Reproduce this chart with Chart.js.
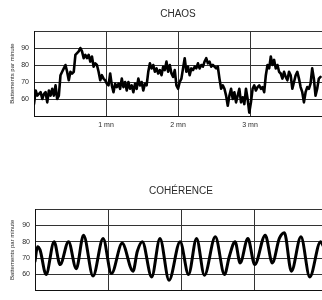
<!DOCTYPE html>
<html>
<head>
<meta charset="utf-8">
<script src="https://cdn.jsdelivr.net/npm/chart.js@4"></script>
<style>
  html, body { margin: 0; padding: 0; background: #fff; overflow: hidden; }
  body { width: 322px; height: 300px; position: relative; }
  canvas { position: absolute; left: 0; }
  #chaosChart { top: 0; }
  #coherenceChart { top: 170px; }
</style>
</head>
<body>
<canvas id="chaosChart" width="327" height="140"></canvas>
<canvas id="coherenceChart" width="327" height="130"></canvas>
<script>
// chaos: one reading every chaosStepMin minutes
const chaosStepMin = 0.023;
const chaosBpm = [
  57, 65, 62, 63, 64, 60, 63, 64, 58, 65, 62, 66, 62, 68, 60, 62, 74, 76, 78, 80,
  76, 71, 76, 75, 76, 86, 87, 88, 90, 88, 84, 86, 84, 86, 82, 85, 79, 81, 80, 76,
  71, 74, 72, 71, 69, 68, 75, 68, 64, 69, 67, 69, 66, 72, 67, 70, 65, 70, 66, 68,
  64, 69, 66, 72, 68, 70, 65, 69, 68, 76, 81, 78, 80, 76, 78, 75, 77, 74, 79, 77,
  82, 76, 80, 75, 73, 77, 68, 66, 70, 72, 78, 84, 76, 79, 74, 78, 77, 79, 78, 81,
  78, 80, 79, 82, 84, 81, 82, 79, 80, 79, 78, 79, 72, 66, 68, 66, 62, 56, 62, 66,
  60, 64, 58, 62, 66, 58, 61, 57, 66, 60, 52, 58, 66, 68, 65, 67, 68, 66, 67, 64,
  74, 80, 78, 85, 80, 83, 78, 80, 76, 75, 72, 76, 73, 71, 76, 74, 66, 70, 74, 76,
  72, 67, 64, 58, 64, 67, 66, 69, 78, 72, 62, 66, 72, 73
];

// coherence: turning points (minutes, bpm)
const coherenceMin = [
  0, 0.034, 0.069, 0.152, 0.262, 0.344, 0.459, 0.565, 0.665, 0.795,
  0.933, 1.047, 1.194, 1.343, 1.401, 1.470, 1.598, 1.712, 1.836, 1.988,
  2.103, 2.213, 2.321, 2.470, 2.596, 2.662, 2.741, 2.810, 2.916, 3.010,
  3.154, 3.251, 3.347, 3.416, 3.512, 3.643, 3.764, 3.912, 3.953
];
const coherenceBpm = [
  68, 77, 75, 60, 80, 66, 80, 63.5, 84, 59,
  82, 60.5, 79, 62, 74, 80, 58.5, 82, 56.5, 80,
  60, 82, 59.5, 83, 60, 71, 80, 67, 82, 66,
  84, 67, 82, 85.5, 62, 83, 58.5, 80, 77
];

const minuteLabels = ['', '1 mn', '2 mn', '3 mn', ''];
const bpmTicks = [60, 70, 80, 90];

const gridColor = '#333';
const textColor = '#2a2a2a';
const fontFamily = 'Arial, "Liberation Sans", sans-serif';

function makeChart(id, points, cfg) {
  return new Chart(document.getElementById(id), {
    type: 'line',
    data: {
      datasets: [{
        data: points,
        borderColor: '#000',
        borderWidth: cfg.lineWidth,
        pointRadius: 0,
        tension: cfg.smooth ? 0.4 : 0,
        cubicInterpolationMode: cfg.smooth ? 'monotone' : 'default',
        borderJoinStyle: 'round',
        borderCapStyle: 'round'
      }]
    },
    options: {
      responsive: false,
      animation: false,
      layout: { padding: 0, autoPadding: false },
      plugins: {
        legend: { display: false },
        tooltip: { enabled: false },
        title: {
          display: true,
          text: cfg.title,
          fullSize: false,
          color: textColor,
          font: { family: fontFamily, size: 10, weight: 'normal' },
          padding: cfg.titlePadding
        }
      },
      scales: {
        x: {
          type: 'linear',
          min: 0,
          max: 4,
          afterFit: s => { s.height = cfg.xHeight; },
          border: { color: '#111', width: 1 },
          grid: { color: gridColor, lineWidth: 1, drawTicks: false },
          ticks: {
            display: cfg.showX,
            stepSize: 1,
            padding: 5,
            color: textColor,
            font: { family: fontFamily, size: 7 },
            maxRotation: 0,
            callback: v => minuteLabels[v] || ''
          }
        },
        y: {
          min: 50,
          max: 100,
          afterFit: s => { s.width = cfg.yWidth; },
          border: { color: '#111', width: 1 },
          grid: { color: gridColor, lineWidth: 1, drawTicks: false },
          title: {
            display: true,
            text: 'Battements par minute',
            color: textColor,
            font: { family: fontFamily, size: 6 },
            padding: { top: 9, bottom: 0 }
          },
          ticks: {
            stepSize: 10,
            padding: 5,
            color: textColor,
            font: { family: fontFamily, size: 7 },
            callback: v => bpmTicks.includes(v) ? String(v) : ''
          }
        }
      }
    }
  });
}

makeChart('chaosChart', chaosBpm.map((v, i) => ({ x: i * chaosStepMin, y: v })), {
  title: 'CHAOS',
  titlePadding: { top: 8, bottom: 11 },
  lineWidth: 2.6,
  smooth: false,
  showX: true,
  xHeight: 24,
  yWidth: 34
});

makeChart('coherenceChart', coherenceMin.map((t, i) => ({ x: t, y: coherenceBpm[i] })), {
  title: 'COHÉRENCE',
  titlePadding: { top: 15.5, bottom: 11.5 },
  lineWidth: 3,
  smooth: true,
  showX: false,
  xHeight: 6,
  yWidth: 35
});
</script>
</body>
</html>
